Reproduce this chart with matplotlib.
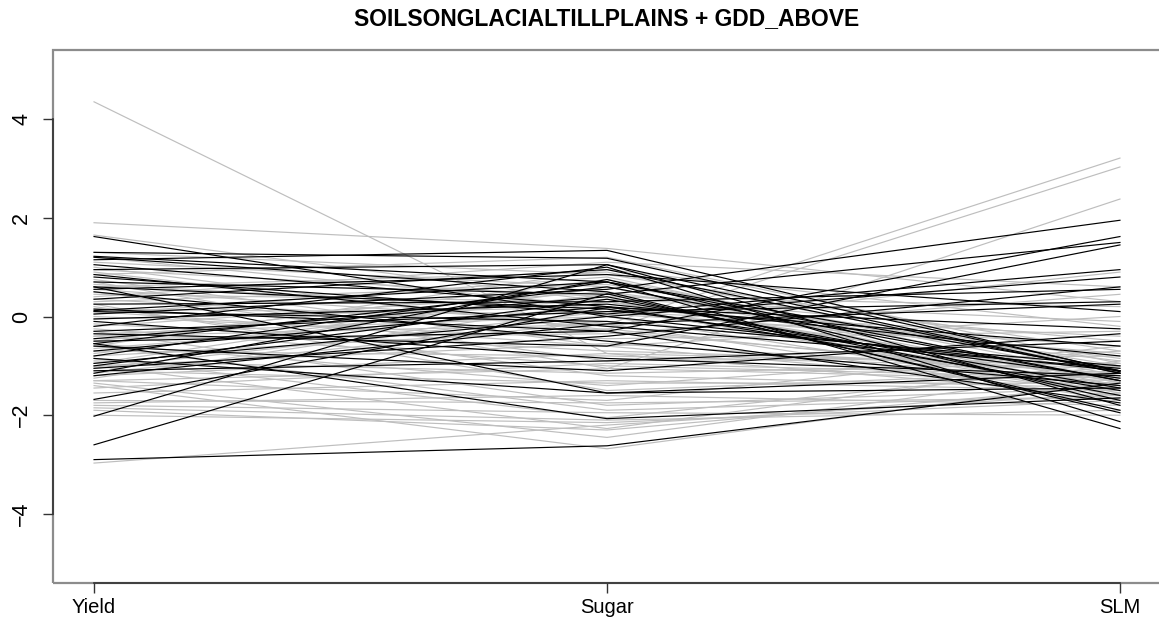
import matplotlib
matplotlib.use("Agg")
import matplotlib.pyplot as plt
from matplotlib.patches import Rectangle

plt.rcParams['font.family'] = ['Liberation Sans', 'DejaVu Sans']

axis_names = ['Yield', 'Sugar', 'SLM']

# standardised values per line: (Yield, Sugar, SLM)
black_yield = [1.62, 1.30, 1.22, 1.15, 1.05, 0.95, 0.85, 0.70, 0.60, 0.50,
               0.35, 0.25, 0.12, 0.10, 0.05, -0.05, -0.10, -0.20, -0.30, -0.45,
               -0.50, -0.55, -0.60, -0.70, -0.80, -0.85, -0.95, -1.00, -1.05, -1.15,
               -1.20, -1.68, -2.02, -2.60, -2.90, 0.60, 0.80, 1.20, -0.35, 0.55,
               -1.10, 0.15, -0.55]
black_sugar = [0.00, 1.18, 0.70, 1.34, 0.20, 1.05, -0.20, 0.45, 0.15, -0.50,
               0.95, 0.30, 0.70, -0.10, 0.55, 0.25, -0.85, 1.00, 0.10, 0.40,
               -0.30, 0.60, -1.10, 0.20, 0.70, -1.55, 0.00, 0.35, -0.40, 0.75,
               -0.15, 0.18, 1.05, 0.46, -2.62, -1.55, 0.05, 0.50, -0.60, 0.85,
               -0.90, -0.30, -2.07]
black_slm = [-1.10, -1.10, -1.30, -1.12, -1.50, -1.80, -1.05, 1.50, -1.25, -1.40,
             -1.15, 0.55, -2.27, -1.00, 1.95, -0.80, -1.20, -2.13, 0.30, -1.60,
             1.62, -1.30, -0.35, -0.60, -1.10, -1.45, 0.80, -1.45, 0.60, -1.70,
             0.25, -0.25, -1.15, -1.90, -1.35, -1.15, 0.95, -1.95, 1.45, 0.10,
             -0.50, -1.75, -1.65]

gray_yield = [4.35, 1.90, 1.65, -0.40, 0.90, -1.30, -2.97, -1.80, -1.90, -2.00,
              -1.75, -1.40, -1.35, -1.00, -0.60, -1.55, 1.30, 1.10, 1.00, 0.95,
              0.85, 0.75, 0.65, 0.60, 0.50, 0.45, 0.35, 0.30, 0.20, 0.15,
              0.05, 0.00, -0.05, -0.15, -0.20, -0.25, -0.35, -0.45, -0.50, -0.55,
              -0.65, -0.70, -0.75, -0.80, -0.90, -0.95, -1.00, -1.05, -1.10, -1.15,
              -1.20, -1.25, -1.30, -1.45, -0.30, 0.25, 0.70, -0.85, 0.40, -0.60,
              0.10, -0.40, 1.20, 0.55, -1.85, -1.70]
gray_sugar = [-0.75, 1.38, 0.30, -0.16, -0.27, -1.06, -2.20, -1.95, -2.30, -2.15,
              -1.60, -2.68, -2.45, -2.27, -1.90, -1.30, 0.85, 0.60, -0.30, 0.40,
              1.20, -0.60, 0.10, 0.90, -0.90, 0.30, -0.20, 0.65, -1.20, 0.05,
              0.80, -0.45, 0.20, -0.70, 0.50, -1.00, 0.00, -0.35, 0.75, -1.40,
              0.15, -0.80, 0.45, -0.25, -1.15, 0.60, -0.55, 0.10, -1.35, -0.10,
              -0.75, 0.30, -1.70, -0.95, -1.80, -1.50, -1.05, -2.05, 1.10, 0.95,
              -0.60, 0.35, 0.20, -0.15, -2.10, -1.75]
gray_slm = [-1.00, 0.30, -0.90, 3.21, 3.03, 2.38, -1.55, -2.00, -1.40, -1.70,
            -1.80, -1.30, -1.10, -0.90, -1.60, -1.50, -0.70, -1.40, -1.20, 0.20,
            -0.95, -1.50, -0.40, -1.10, -0.80, -1.30, 0.90, -1.00, -1.45, -0.60,
            -1.35, -0.30, -1.55, -1.00, -0.85, -1.25, -1.60, 0.45, -1.20, -0.70,
            -1.40, -1.05, -0.50, -1.30, -0.95, -1.50, -1.15, -0.75, -1.35, -1.00,
            -1.60, -1.25, -0.60, -1.20, -1.45, -1.10, -1.30, -1.00, 0.60, -0.20,
            0.00, -0.10, -1.60, -1.70, -1.90, -1.65]

x = [1, 2, 3]

fig = plt.figure(figsize=(11.59, 6.18), dpi=100)
ax = fig.add_axes([53 / 1159, 35 / 618, 1108 / 1159, 533 / 618])

for a, b, c in zip(gray_yield, gray_sugar, gray_slm):
    ax.plot(x, [a, b, c], color='#bebebe', lw=0.85, solid_joinstyle='miter')
for a, b, c in zip(black_yield, black_sugar, black_slm):
    ax.plot(x, [a, b, c], color='black', lw=0.85, solid_joinstyle='miter')

ax.set_xlim(0.92, 3.08)
ax.set_ylim(-5.4, 5.4)

# grey box with black axis lines only over the tick range (R style)
ax.add_patch(Rectangle((0, 0), 1, 1, transform=ax.transAxes, fill=False,
                       edgecolor='#8c8c8c', lw=1.6, clip_on=False, zorder=0.5))
for s in ['top', 'right']:
    ax.spines[s].set_visible(False)
ax.spines['left'].set_bounds(-4, 4)
ax.spines['bottom'].set_bounds(1, 3)
for s in ['left', 'bottom']:
    ax.spines[s].set_color('#333333')
    ax.spines[s].set_linewidth(1.2)

ax.set_yticks([-4, -2, 0, 2, 4])
ax.set_yticklabels(['\u22124', '\u22122', '0', '2', '4'], rotation=90, va='center')
ax.set_xticks(x)
ax.set_xticklabels(axis_names)
ax.tick_params(axis='both', direction='out', length=7, width=1, color='#333333')
ax.tick_params(axis='x', labelsize=14.5, pad=4)
ax.tick_params(axis='y', labelsize=15.5, pad=8)

fig.text(607 / 1159, 1 - 19 / 618, 'SOILSONGLACIALTILLPLAINS + GDD_ABOVE',
         ha='center', va='center', fontsize=16.5, fontweight='bold')

fig.savefig('out.png', dpi=100)
